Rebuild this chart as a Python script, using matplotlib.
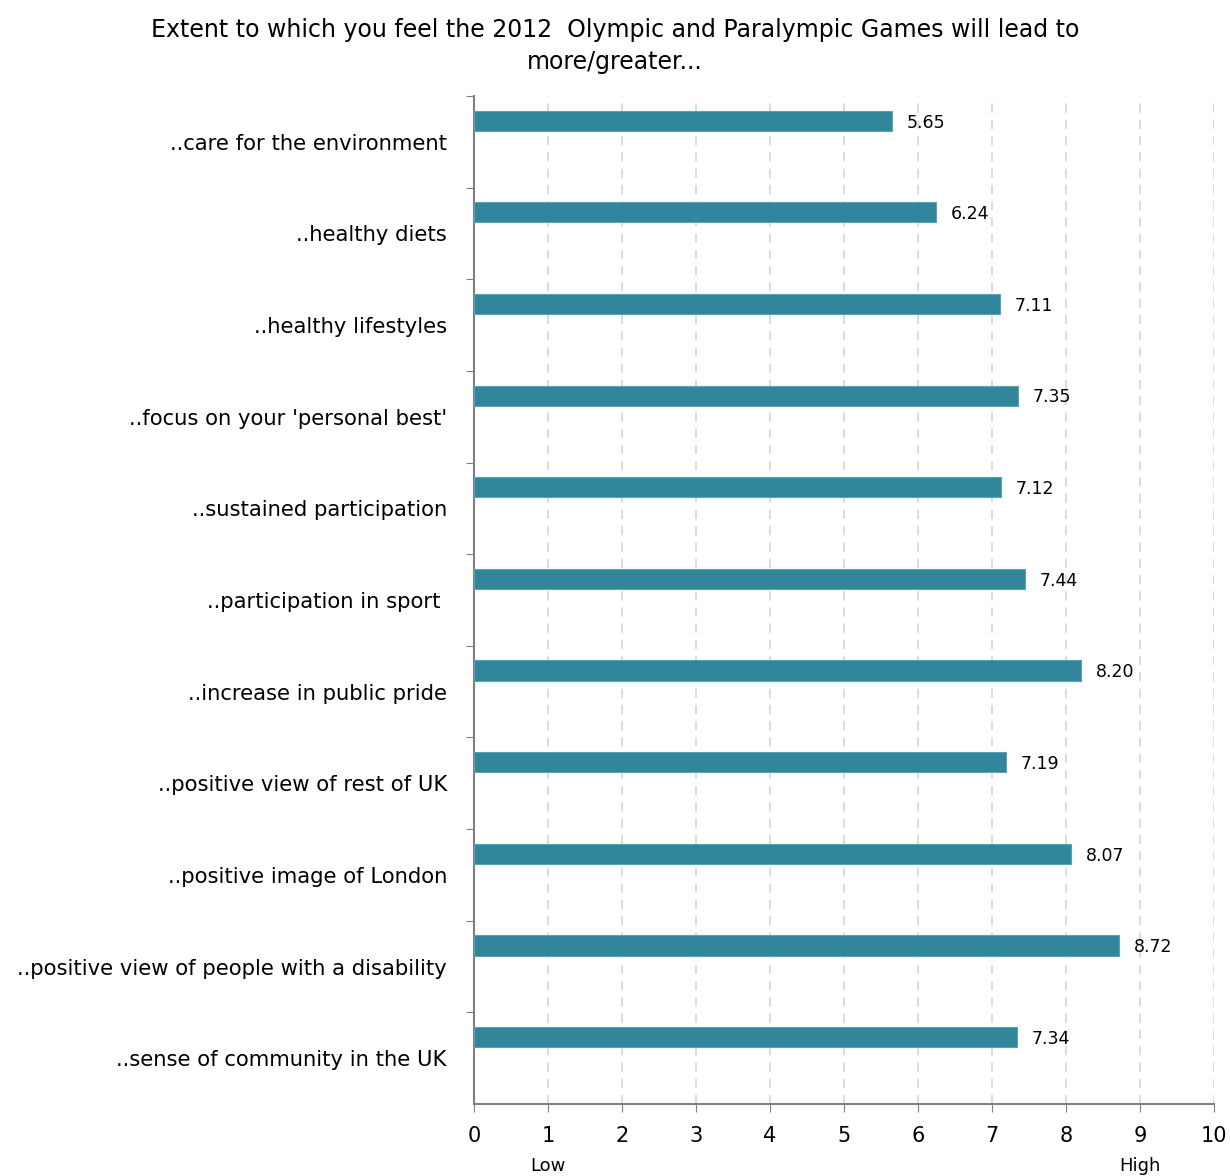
import matplotlib.pyplot as plt
import numpy as np

categories = [
    "..care for the environment",
    "..healthy diets",
    "..healthy lifestyles",
    "..focus on your 'personal best'",
    "..sustained participation",
    "..participation in sport ",
    "..increase in public pride",
    "..positive view of rest of UK",
    "..positive image of London",
    "..positive view of people with a disability",
    "..sense of community in the UK",
]
scores = [5.65, 6.24, 7.11, 7.35, 7.12, 7.44, 8.20, 7.19, 8.07, 8.72, 7.34]
x_ticks = list(range(0, 11))
title = "Extent to which you feel the 2012  Olympic and Paralympic Games will lead to\nmore/greater..."

fig = plt.figure(figsize=(12.3, 11.76), dpi=100)
ax = fig.add_axes([474 / 1230, 1 - 1104 / 1176, 740 / 1230, 1008 / 1176])

pos = np.arange(len(categories))
bar_pos = pos - 0.23
ax.barh(bar_pos, scores, height=0.22, color='#31869B', edgecolor='#5aa3b5', linewidth=0.8, zorder=3)

for y, v in zip(bar_pos, scores):
    ax.text(v + 0.2, y + 0.02, f'{v:.2f}', va='center', ha='left', fontsize=12.5, color='black')

ax.set_xlim(0, 10)
ax.set_ylim(len(categories) - 0.5, -0.5)
ax.set_xticks(x_ticks)
ax.set_xticklabels([str(t) for t in x_ticks], fontsize=15)
ax.set_yticks(pos - 0.5, minor=False)
ax.set_yticks(pos, minor=True)
ax.set_yticklabels([])
ax.set_yticklabels(categories, minor=True, fontsize=15.2)
ax.tick_params(axis='y', which='minor', length=0, pad=19.5)
ax.tick_params(axis='y', which='major', length=6, color='#808080', direction='out')
ax.tick_params(axis='x', length=6, color='#808080', pad=10)

ax.grid(axis='x', linestyle=(0, (5, 4)), color='#d9d9d9', linewidth=1.3, zorder=0)
for s in ['top', 'right']:
    ax.spines[s].set_visible(False)
for s in ['left', 'bottom']:
    ax.spines[s].set_color('#808080')
    ax.spines[s].set_linewidth(1.5)

ax.text(1, -0.062, 'Low', transform=ax.get_xaxis_transform(), ha='center', va='center', fontsize=13)
ax.text(9, -0.062, 'High', transform=ax.get_xaxis_transform(), ha='center', va='center', fontsize=13)

fig.text(0.5, 1 - 46 / 1176, title, ha='center', va='center', fontsize=17, linespacing=1.4)

fig.savefig('out.png', dpi=100)
